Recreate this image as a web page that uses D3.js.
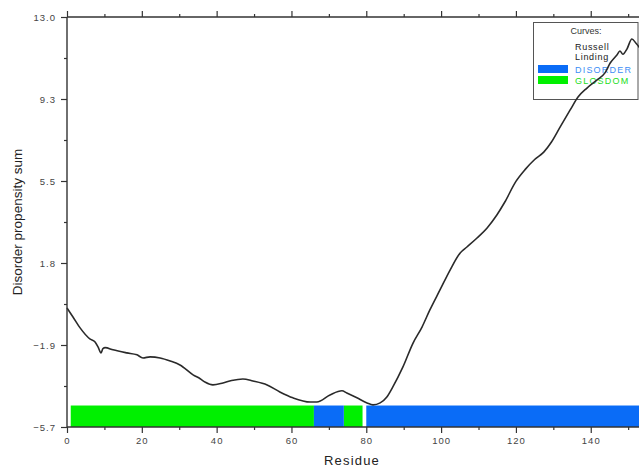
<!DOCTYPE html>
<html>
<head>
<meta charset="utf-8">
<script src="https://cdn.jsdelivr.net/npm/d3@7"></script>
<style>
  html, body { margin: 0; padding: 0; background: #fff; }
  svg { display: block; font-family: "Liberation Sans", Arial, sans-serif; }
</style>
</head>
<body>
<svg id="chart" width="639" height="467"></svg>
<script>
// Russell/Linding disorder propensity profile
const residues = [0, 1.6, 3.5, 6.1, 7.5, 8.3, 9.1, 9.6, 10.2, 12.3, 16, 18.7, 20.3, 22.2, 24.9, 27.6, 30.2,
  33.7, 35.6, 37, 39, 41.7, 44, 47, 49.7, 53.5, 56.9, 60.4, 65, 66.8, 70.3, 73.5, 74.8, 77.5, 80.2, 81.8,
  83.7, 85.5, 87.1, 89.8, 92.5, 94.9, 97, 99.7, 102.4, 105.1, 106.9, 109.6, 112.3, 114.9, 117, 120,
  122.5, 125, 127.5, 129.5, 131.8, 134.5, 136.6, 139, 141.7, 143.8, 145.2, 147, 147.8, 148.6,
  149.7, 151, 152.1, 153.5];
const propensity = [-0.27, -0.68, -1.18, -1.68, -1.82, -2.05, -2.32, -2.12, -2.08, -2.18, -2.32, -2.41, -2.55,
  -2.5, -2.55, -2.69, -2.87, -3.32, -3.5, -3.66, -3.78, -3.69, -3.58, -3.51, -3.6, -3.78, -4.1, -4.37, -4.56,
  -4.56, -4.24, -4.05, -4.15, -4.37, -4.6, -4.69, -4.6, -4.33, -3.87, -2.96, -1.87, -1.14, -0.36, 0.55,
  1.46, 2.24, 2.51, 2.92, 3.38, 3.97, 4.55, 5.5, 6.05, 6.5, 6.85, 7.3, 7.98, 8.76, 9.35, 9.76,
  10.13, 10.45, 10.9, 11.27, 11.45, 11.3, 11.55, 12.0, 11.8, 11.5];

// predicted regions drawn as a band along the bottom
const disorderRegions = [[66, 74], [80, 160]];
const globdomRegions = [[1, 66], [74, 79]];

const yTickValues = [-5.7, -1.9, 1.8, 5.5, 9.3, 13.0];
const xTickValues = [0, 20, 40, 60, 80, 100, 120, 140];
const legendCurves = ["Russell", "Linding"];
const legendBars = ["DISORDER", "GLOSDOM"];

const svg = d3.select("#chart");
const plotLeft = 67, plotTop = 17, plotBottom = 427;
const x = d3.scaleLinear().domain([0, 160]).range([plotLeft, plotLeft + 160 * 3.741]);
const y = d3.scaleLinear().domain([-5.7, 13.0]).range([plotBottom, plotTop]);

const clipRight = 639;
const blue = "#0a6cf7", green = "#00f000";

// legend (drawn first so the curve runs over it)
const lg = svg.append("g");
lg.append("rect").attr("x", 533.5).attr("y", 22.5).attr("width", 104.5).attr("height", 77)
  .attr("fill", "#fff").attr("stroke", "#555").attr("stroke-width", 1);
lg.append("text").attr("x", 586).attr("y", 34).attr("text-anchor", "middle")
  .attr("font-size", 9).attr("fill", "#333").text("Curves:");
lg.selectAll(null).data(legendCurves).enter().append("text")
  .attr("x", 575).attr("y", (d, i) => 50 + i * 10)
  .attr("font-size", 9).attr("letter-spacing", "0.7px").attr("fill", "#222").text(d => d);
const barColors = [blue, green];
const textColors = ["#3d8ef5", "#22dd22"];
lg.selectAll(null).data(legendBars).enter().append("rect")
  .attr("x", 538).attr("y", (d, i) => 65 + i * 11).attr("width", 30).attr("height", 8)
  .attr("fill", (d, i) => barColors[i]);
lg.selectAll(null).data(legendBars).enter().append("text")
  .attr("x", 575).attr("y", (d, i) => 72.5 + i * 11)
  .attr("font-size", 9).attr("letter-spacing", "1.2px").attr("fill", (d, i) => textColors[i]).text(d => d);

// region band
const bandTop = -4.72, bandBottom = -5.7;
const band = svg.append("g");
function drawRegions(regions, color) {
  band.selectAll(null).data(regions).enter().append("rect")
    .attr("x", d => x(d[0]))
    .attr("width", d => Math.min(x(d[1]), clipRight) - x(d[0]))
    .attr("y", y(bandTop))
    .attr("height", y(bandBottom) - y(bandTop))
    .attr("fill", color);
}
drawRegions(globdomRegions, green);
drawRegions(disorderRegions, blue);

// profile curve
const pts = residues.map((r, i) => [r, propensity[i]]);
svg.append("path")
  .datum(pts)
  .attr("fill", "none")
  .attr("stroke", "#2a2a2a")
  .attr("stroke-width", 1.6)
  .attr("stroke-linejoin", "round")
  .attr("d", d3.line().x(d => x(d[0])).y(d => y(d[1])).curve(d3.curveMonotoneX));

// axes
const axisColor = "#333";
const tickFont = 9.5;

const xMinor = d3.range(0, 161, 10);
const yStep = (13.0 - (-5.7)) / 5;
const yMinor = d3.range(0, 11).map(i => -5.7 + i * yStep / 2);

const xAxisB = d3.axisBottom(x).tickValues(xMinor)
  .tickFormat(d => xTickValues.includes(d) ? d : "")
  .tickSize(0).tickPadding(10);
const gxb = svg.append("g").attr("transform", `translate(0,${plotBottom})`).call(xAxisB);
gxb.select(".domain").remove();
gxb.selectAll(".tick line").attr("y2", d => d % 20 === 0 ? 6 : 3).attr("stroke", axisColor).attr("stroke-width", 1.2);
gxb.selectAll(".tick text").attr("fill", "#444").attr("font-size", tickFont).attr("letter-spacing", "1px");

const xAxisT = d3.axisTop(x).tickValues(xMinor).tickFormat("").tickSize(0);
const gxt = svg.append("g").attr("transform", `translate(0,${plotTop})`).call(xAxisT);
gxt.select(".domain").remove();
gxt.selectAll(".tick line").attr("y2", d => d % 20 === 0 ? -6 : -3).attr("stroke", axisColor).attr("stroke-width", 1.2);

const yAxis = d3.axisLeft(y).tickValues(yMinor).tickSize(0).tickPadding(11)
  .tickFormat((d, i) => i % 2 === 0 ? d3.format(".1f")(yTickValues[i / 2]) : "");
const gy = svg.append("g").attr("transform", `translate(${plotLeft},0)`).call(yAxis);
gy.select(".domain").remove();
gy.selectAll(".tick line").attr("x2", (d, i) => i % 2 === 0 ? -6 : -3).attr("stroke", axisColor).attr("stroke-width", 1.2);
gy.selectAll(".tick text").attr("fill", "#444").attr("font-size", tickFont).attr("letter-spacing", "1px");

// frame lines: left, top, bottom
svg.append("line").attr("x1", plotLeft).attr("x2", plotLeft).attr("y1", plotTop).attr("y2", plotBottom)
  .attr("stroke", axisColor).attr("stroke-width", 1.4);
svg.append("line").attr("x1", plotLeft).attr("x2", clipRight).attr("y1", plotTop).attr("y2", plotTop)
  .attr("stroke", axisColor).attr("stroke-width", 1.4);
svg.append("line").attr("x1", plotLeft).attr("x2", clipRight).attr("y1", plotBottom).attr("y2", plotBottom)
  .attr("stroke", axisColor).attr("stroke-width", 1.4);

// axis titles
svg.append("text").attr("x", 352).attr("y", 465).attr("text-anchor", "middle")
  .attr("font-size", 13).attr("letter-spacing", "1.2px").attr("fill", "#222").text("Residue");
svg.append("text").attr("transform", `translate(22,${(plotTop + plotBottom) / 2}) rotate(-90)`)
  .attr("text-anchor", "middle").attr("font-size", 13.5).attr("fill", "#222").text("Disorder propensity sum");
</script>
</body>
</html>
